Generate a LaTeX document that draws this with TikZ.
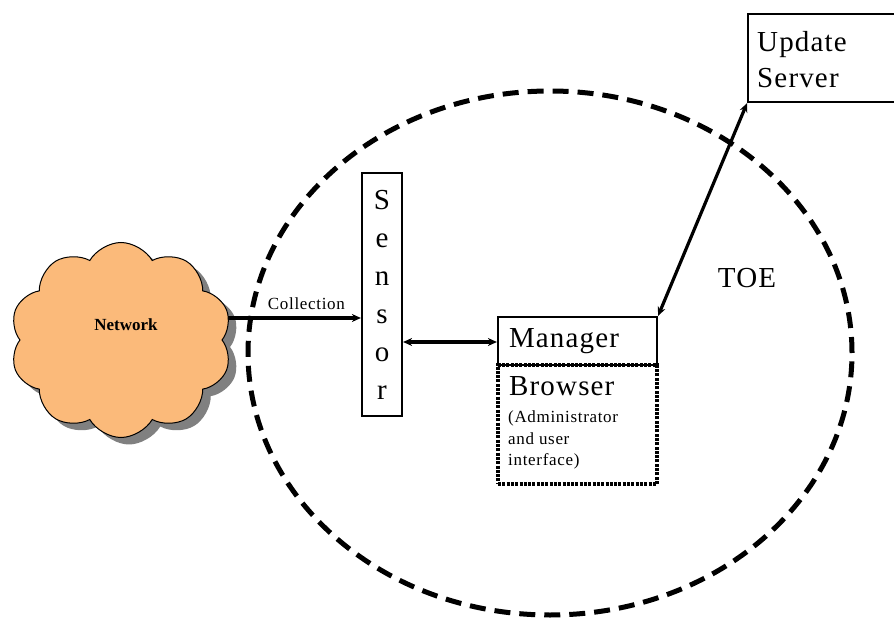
\documentclass[tikz,border=0pt]{standalone}
\usepackage{fontspec}
\setmainfont{Liberation Serif}
\usetikzlibrary{shapes.symbols,shadows,arrows.meta}
\definecolor{cloudorange}{RGB}{251,186,122}
\definecolor{shadowgray}{RGB}{128,128,128}
\tikzset{
  box/.style={draw=black, line width=2.2pt, fill=white},
  dotbox/.style={draw=black, line width=3.2pt, dash pattern=on 3pt off 1.3pt},
  bigtxt/.style={font=\fontsize{29}{36}\selectfont\addfontfeature{LetterSpace=4}, inner sep=0pt},
  smalltxt/.style={font=\fontsize{17}{21.5}\selectfont\addfontfeature{LetterSpace=4}, inner sep=0pt},
  tip/.style={Stealth[length=9pt,width=8pt]},
  arr/.style={line width=3.2pt, arrows={-Stealth[length=9pt,width=8pt]}},
  darr/.style={line width=3.2pt, arrows={Stealth[length=9pt,width=8pt]-Stealth[length=9pt,width=8pt]}},
  toe/.style={draw=black, line width=5pt, dash pattern=on 16pt off 9pt},
}
\begin{document}
\begin{tikzpicture}[x=1pt,y=-1pt]
\useasboundingbox (0,0) rectangle (894,620);
\clip (0,0) rectangle (894,620);
\fill[white] (0,0) rectangle (894,620);
% TOE ellipse
\draw[toe] (550,353) ellipse [x radius=302pt, y radius=262pt];
% cloud
\node[cloud, cloud puffs=10, cloud puff arc=120, aspect=1.15,
      minimum width=222pt, minimum height=195pt, draw=black, line width=1pt,
      fill=cloudorange,
      drop shadow={shadow xshift=8pt, shadow yshift=-7pt, fill=shadowgray, opacity=1}]
      (net) at (121,340) {};
\node[font=\bfseries\fontsize{17}{20}\selectfont, inner sep=0pt] (netl) at (126,325) {Network};
% sensor
\node[box, minimum width=40pt, minimum height=243pt, inner sep=0pt, align=center,
      font=\fontsize{29}{38}\selectfont] (sen) at (382,294.5) {S\\e\\n\\s\\o\\r};
% manager
\node[box, minimum width=159pt, minimum height=48pt, inner xsep=11pt, inner ysep=0pt,
      text width=137pt, align=left, font=\fontsize{29}{36}\selectfont\addfontfeature{LetterSpace=4}] (mgr) at (577.5,341) {Manager};
% browser
\node[dotbox, minimum width=159pt, minimum height=119pt] (brw) at (577.5,424.5) {};
\node[bigtxt, anchor=west] (brt) at (509,386) {Browser};
\node[smalltxt, anchor=north west, align=left] (brs) at (508,411) {(Administrator\\and user\\interface)};
% update server
\node[box, anchor=north west, minimum width=170pt, minimum height=88pt] (upd) at (747,13) {};
\node[bigtxt, anchor=west, align=left] (updt) at (757,60) {Update\\Server};
% TOE label
\node[bigtxt] (toel) at (747,278) {TOE};
% connectors
\coordinate (cs) at (228,318);
\draw[arr] (cs) -- (cs -| sen.west) node[midway, above=7pt, smalltxt, xshift=12pt] (coll) {Collection};
\draw[darr] (sen.east |- 0,342) -- (mgr.west |- 0,342);
\draw[darr] (mgr.north east) -- (upd.south west);
\end{tikzpicture}
\end{document}
